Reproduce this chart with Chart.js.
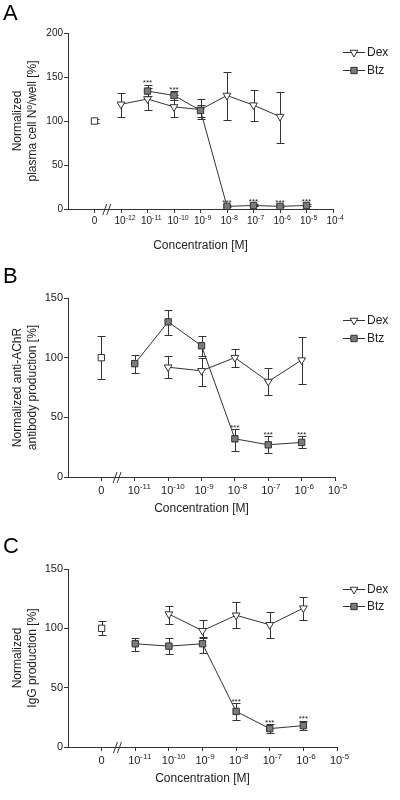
<!DOCTYPE html>
<html>
<head>
<meta charset="utf-8">
<script src="https://cdn.jsdelivr.net/npm/chart.js@4.4.1/dist/chart.umd.min.js"></script>
<style>
  html, body { margin: 0; padding: 0; background: #fff; }
  #wrap { position: relative; width: 400px; height: 800px; }
  canvas { position: absolute; left: 0; }
</style>
</head>
<body>
<div id="wrap">
  <canvas id="chartA" width="400" height="262" style="top:0"></canvas>
  <canvas id="chartB" width="400" height="268" style="top:262px"></canvas>
  <canvas id="chartC" width="400" height="270" style="top:530px"></canvas>
</div>
<script>
// ---- Panel A: plasma cell number ----
const xTicksA = [-13, -12, -11, -10, -9, -8, -7, -6, -5, -4];
const xLabelsA = ['0', '-12', '-11', '-10', '-9', '-8', '-7', '-6', '-5', '-4'];
const ctrlXA = [-13];
const ctrlA = [100];
const ctrlLoA = [98];
const ctrlHiA = [102];
const dexXA = [-12, -11, -10, -9, -8, -7, -6];
const dexA = [119, 125, 116, 113, 129, 118, 105];
const dexLoA = [105, 112, 104, 102, 101, 100, 75];
const dexHiA = [132, 137, 129, 125, 156, 135, 133];
const btzXA = [-11, -10, -9, -8, -7, -6, -5];
const btzA = [134, 129, 112, 3, 4, 3, 4];
const btzLoA = [128, 124, 105, 2, 3, 2, 3];
const btzHiA = [141, 134, 118, 5, 6, 5, 6];
const sigXA = [-11, -10, -8, -7, -6, -5];

// ---- Panel B: anti-AChR antibody ----
const xTicksB = [-12, -11, -10, -9, -8, -7, -6, -5];
const xLabelsB = ['0', '-11', '-10', '-9', '-8', '-7', '-6', '-5'];
const ctrlXB = [-12];
const ctrlB = [100];
const ctrlLoB = [82];
const ctrlHiB = [118];
const dexXB = [-10, -9, -8, -7, -6];
const dexB = [92, 89, 100, 80, 98];
const dexLoB = [83, 76, 92, 69, 78];
const dexHiB = [101, 100, 107, 91, 117];
const btzXB = [-11, -10, -9, -8, -7, -6];
const btzB = [95, 130, 110, 32, 27, 29];
const btzLoB = [87, 119, 101, 22, 20, 24];
const btzHiB = [102, 140, 118, 40, 34, 34];
const sigXB = [-8, -7, -6];

// ---- Panel C: IgG ----
const xTicksC = [-12, -11, -10, -9, -8, -7, -6, -5];
const xLabelsC = ['0', '-11', '-10', '-9', '-8', '-7', '-6', '-5'];
const ctrlXC = [-12];
const ctrlC = [100];
const ctrlLoC = [94];
const ctrlHiC = [106];
const dexXC = [-10, -9, -8, -7, -6];
const dexC = [112, 98, 111, 103, 117];
const dexLoC = [104, 93, 100, 92, 107];
const dexHiC = [119, 107, 122, 114, 126];
const btzXC = [-11, -10, -9, -8, -7, -6];
const btzC = [87, 85, 87, 30, 15.5, 18];
const btzLoC = [81, 78, 79, 23, 12, 14];
const btzHiC = [92, 92, 92, 37, 19, 22];
const sigXC = [-8, -7, -6];

const FONT = "'Liberation Sans', Arial, Helvetica, sans-serif";
const INK = '#333';

function pts(xs, ys, lo, hi) {
  return xs.map((x, i) => ({ x: x, y: ys[i], lo: lo[i], hi: hi[i] }));
}

// error bars with caps, under the markers
const errorBars = {
  id: 'errorBars',
  beforeDatasetsDraw(chart) {
    const ctx = chart.ctx, xs = chart.scales.x, ys = chart.scales.y;
    ctx.save();
    ctx.strokeStyle = INK;
    ctx.lineWidth = 1;
    chart.data.datasets.forEach(ds => {
      ds.data.forEach(p => {
        const x = Math.round(xs.getPixelForValue(p.x)) + 0.5;
        const y1 = Math.round(ys.getPixelForValue(p.lo)) + 0.5;
        const y2 = Math.round(ys.getPixelForValue(p.hi)) + 0.5;
        ctx.beginPath();
        ctx.moveTo(x, y1); ctx.lineTo(x, y2);
        ctx.moveTo(x - 4, y1); ctx.lineTo(x + 4, y1);
        ctx.moveTo(x - 4, y2); ctx.lineTo(x + 4, y2);
        ctx.stroke();
      });
    });
    ctx.restore();
  }
};

// tick labels with superscripts, axis break, stars, legend, panel letter
const deco = {
  id: 'deco',
  afterDraw(chart, args, o) {
    const ctx = chart.ctx, xs = chart.scales.x, ys = chart.scales.y;
    const axisY = ys.getPixelForValue(0);
    ctx.save();
    ctx.fillStyle = '#222';
    ctx.textBaseline = 'alphabetic';

    // x tick labels
    o.ticks.forEach((v, i) => {
      const x = xs.getPixelForValue(v);
      const lab = o.labels[i];
      const base = axisY + o.labelDy;
      ctx.font = o.tickSize + 'px ' + FONT;
      ctx.textAlign = 'center';
      if (lab === '0') {
        ctx.fillText('0', x, base);
      } else {
        const w = ctx.measureText('10').width;
        ctx.fillText('10', x - 1, base);
        ctx.font = o.supSize + 'px ' + FONT;
        ctx.textAlign = 'left';
        ctx.fillText(lab, x - 1 + w / 2, base - o.tickSize * 0.45);
      }
    });

    // axis break "//"
    const bx = xs.getPixelForValue(o.breakX);
    ctx.strokeStyle = INK;
    ctx.lineWidth = 1;
    ctx.beginPath();
    [-3, 1].forEach(d => {
      ctx.moveTo(bx + d - 2, axisY + 6);
      ctx.lineTo(bx + d + 2, axisY - 5);
    });
    ctx.stroke();

    // significance stars above Btz
    const btz = chart.data.datasets[0].data;
    ctx.font = '8px ' + FONT;
    ctx.textAlign = 'center';
    o.sig.forEach(sx => {
      const p = btz.find(d => d.x === sx);
      if (!p) return;
      ctx.fillText('***', xs.getPixelForValue(p.x), ys.getPixelForValue(p.hi) + 0.5);
    });

    // legend
    o.legend.forEach(item => {
      ctx.beginPath();
      ctx.moveTo(343, item.y + 0.5);
      ctx.lineTo(365, item.y + 0.5);
      ctx.stroke();
      ctx.fillStyle = item.fill;
      ctx.strokeStyle = INK;
      Chart.helpers.drawPoint(ctx, {
        pointStyle: item.style, rotation: item.rot, radius: 4.5, borderWidth: 1
      }, 354, item.y + 0.5);
      ctx.fillStyle = '#222';
      ctx.font = '12px ' + FONT;
      ctx.textAlign = 'left';
      ctx.textBaseline = 'middle';
      ctx.fillText(item.text, 367, item.y + 1);
      ctx.textBaseline = 'alphabetic';
    });

    // panel letter
    ctx.font = '22px ' + FONT;
    ctx.textAlign = 'left';
    ctx.fillStyle = '#000';
    ctx.fillText(o.letter, 3, o.letterY);
    ctx.restore();
  }
};

function makePanel(id, p) {
  const tickFont = { family: FONT, size: p.tickSize };
  return new Chart(document.getElementById(id), {
    type: 'scatter',
    data: {
      datasets: [
        {
          label: 'Btz',
          data: pts(p.btzX, p.btz, p.btzLo, p.btzHi),
          showLine: true,
          borderColor: INK, borderWidth: 1,
          pointStyle: 'rect', pointRadius: 4.5,
          pointBackgroundColor: '#7a7a7a', pointBorderColor: INK, pointBorderWidth: 1,
          clip: false
        },
        {
          label: 'Dex',
          data: pts(p.dexX, p.dex, p.dexLo, p.dexHi),
          showLine: true,
          borderColor: INK, borderWidth: 1,
          pointStyle: 'triangle', rotation: 180, pointRadius: 4.5,
          pointBackgroundColor: '#fff', pointBorderColor: INK, pointBorderWidth: 1,
          clip: false
        },
        {
          label: 'Control',
          data: pts(p.ctrlX, p.ctrl, p.ctrlLo, p.ctrlHi),
          showLine: false,
          pointStyle: 'rect', pointRadius: 4.5,
          pointBackgroundColor: '#fff', pointBorderColor: INK, pointBorderWidth: 1,
          clip: false
        }
      ]
    },
    options: {
      responsive: false,
      animation: false,
      events: [],
      layout: { padding: { left: 0, top: p.top, right: p.right, bottom: 0 } },
      plugins: {
        legend: { display: false },
        tooltip: { enabled: false },
        deco: {
          ticks: p.xTicks, labels: p.xLabels, breakX: p.breakX, sig: p.sig,
          tickSize: p.tickSize, supSize: p.supSize, labelDy: p.labelDy,
          letter: p.letter, letterY: p.letterY,
          legend: [
            { text: 'Dex', y: p.legY[0], style: 'triangle', rot: 180, fill: '#fff' },
            { text: 'Btz', y: p.legY[1], style: 'rect', rot: 0, fill: '#7a7a7a' }
          ]
        }
      },
      scales: {
        x: {
          type: 'linear',
          min: p.xMin, max: p.xMax,
          afterBuildTicks: s => { s.ticks = p.xTicks.map(v => ({ value: v })); },
          afterFit: s => { s.height = p.xAxisH; },
          ticks: { autoSkip: false, callback: () => '', font: tickFont },
          grid: { drawOnChartArea: false, drawTicks: true, tickLength: 4, color: INK },
          border: { display: true, color: INK, width: 1 },
          title: {
            display: true, text: 'Concentration [M]', color: '#222',
            font: { family: FONT, size: 12, lineHeight: 1.25 },
            padding: { top: 0, bottom: p.xTitlePad }
          }
        },
        y: {
          min: 0, max: p.yMax,
          afterFit: s => { s.width = 68; },
          ticks: { stepSize: 50, color: '#222', font: tickFont, padding: 1 },
          grid: { drawOnChartArea: false, drawTicks: true, tickLength: 4, color: INK },
          border: { display: true, color: INK, width: 1 },
          title: {
            display: true, text: p.yTitle, color: '#222',
            font: { family: FONT, size: 12, lineHeight: 1.25 },
            padding: { top: 10.5, bottom: 0 }
          }
        }
      }
    },
    plugins: [errorBars, deco]
  });
}

makePanel('chartA', {
  xTicks: xTicksA, xLabels: xLabelsA, xMin: -14, xMax: -4, breakX: -12.5,
  ctrlX: ctrlXA, ctrl: ctrlA, ctrlLo: ctrlLoA, ctrlHi: ctrlHiA,
  dexX: dexXA, dex: dexA, dexLo: dexLoA, dexHi: dexHiA,
  btzX: btzXA, btz: btzA, btzLo: btzLoA, btzHi: btzHiA, sig: sigXA,
  yMax: 200, yTitle: ['Normalized', 'plasma cell N\u00ba/well [%]'],
  top: 33, right: 67, xAxisH: 53, xTitlePad: 8.5,
  tickSize: 10, supSize: 7, labelDy: 15,
  letter: 'A', letterY: 20, legY: [52, 70]
});

makePanel('chartB', {
  xTicks: xTicksB, xLabels: xLabelsB, xMin: -13, xMax: -5, breakX: -11.5,
  ctrlX: ctrlXB, ctrl: ctrlB, ctrlLo: ctrlLoB, ctrlHi: ctrlHiB,
  dexX: dexXB, dex: dexB, dexLo: dexLoB, dexHi: dexHiB,
  btzX: btzXB, btz: btzB, btzLo: btzLoB, btzHi: btzHiB, sig: sigXB,
  yMax: 150, yTitle: ['Normalized anti-AChR', 'antibody production [%]'],
  top: 36, right: 65, xAxisH: 53, xTitlePad: 13.5,
  tickSize: 11, supSize: 8, labelDy: 17,
  letter: 'B', letterY: 21, legY: [58, 76]
});

makePanel('chartC', {
  xTicks: xTicksC, xLabels: xLabelsC, xMin: -13, xMax: -5, breakX: -11.5,
  ctrlX: ctrlXC, ctrl: ctrlC, ctrlLo: ctrlLoC, ctrlHi: ctrlHiC,
  dexX: dexXC, dex: dexC, dexLo: dexLoC, dexHi: dexHiC,
  btzX: btzXC, btz: btzC, btzLo: btzLoC, btzHi: btzHiC, sig: sigXC,
  yMax: 150, yTitle: ['Normalized', 'IgG production [%]'],
  top: 39, right: 63, xAxisH: 53, xTitlePad: 13.5,
  tickSize: 11, supSize: 8, labelDy: 17,
  letter: 'C', letterY: 23, legY: [59, 76]
});
</script>
</body>
</html>
